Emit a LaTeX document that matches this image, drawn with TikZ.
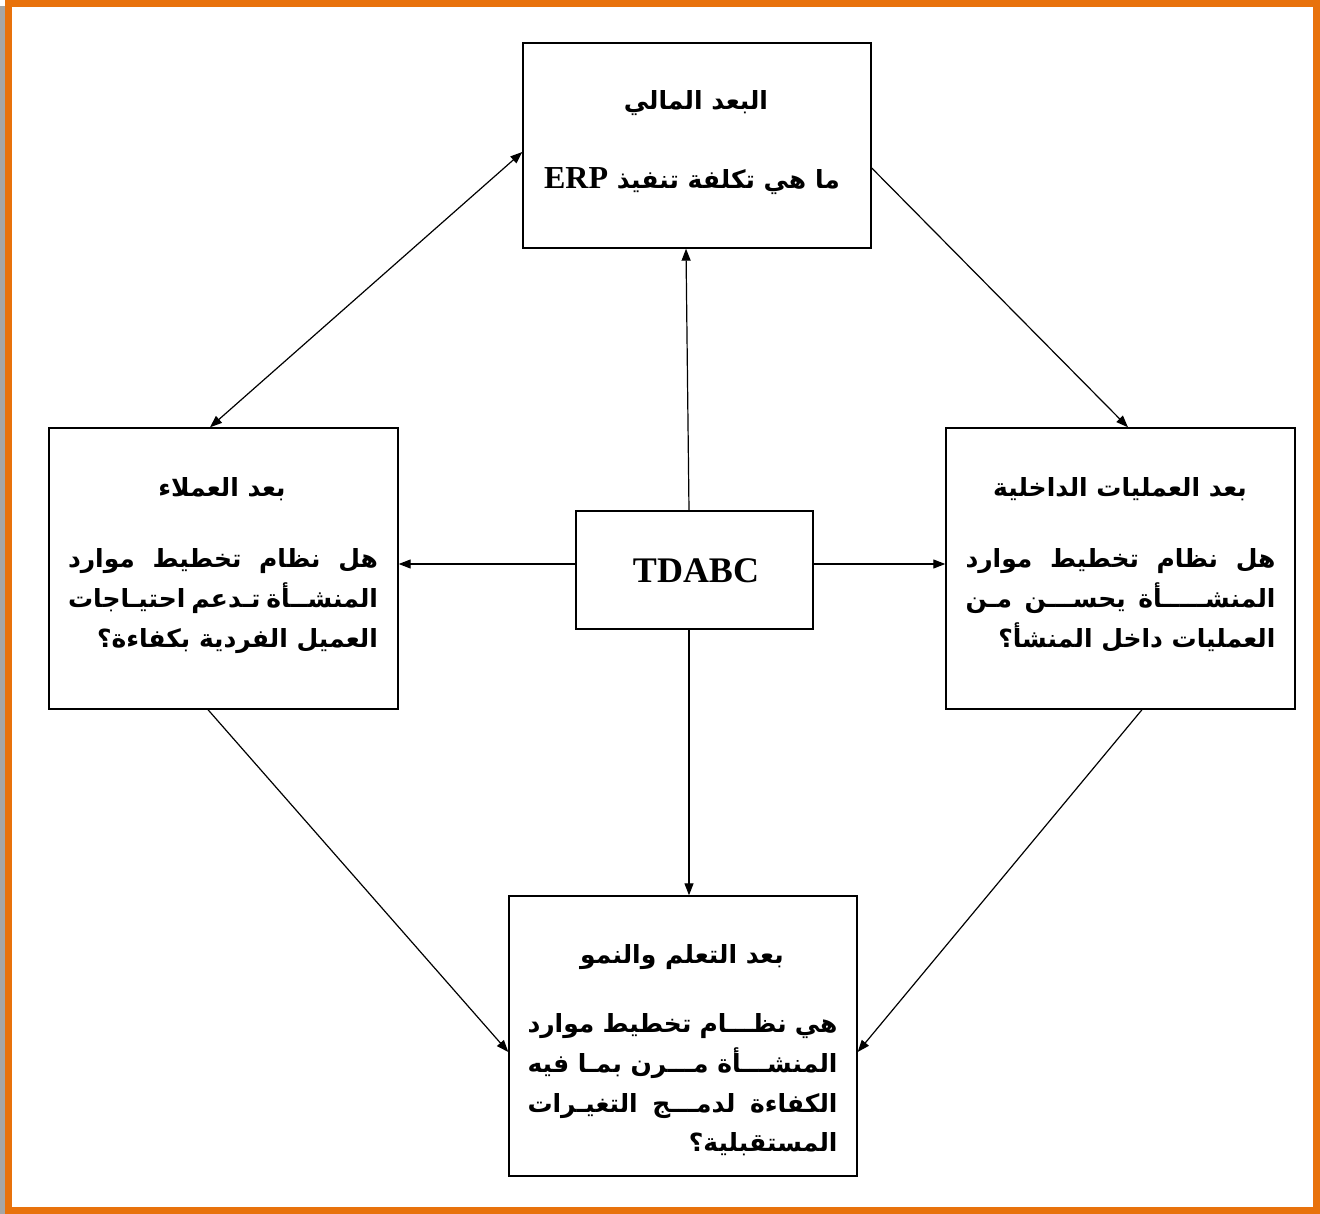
\documentclass[tikz,border=0pt]{standalone}
\usepackage{fontspec}
\setmainfont{Liberation Serif}
\newfontfamily\arabicfont[Script=Arabic]{DejaVu Sans}
\TeXXeTstate=1
\usetikzlibrary{arrows.meta,calc}
\definecolor{frameorange}{RGB}{232,114,12}
\newlength\jw \setlength\jw{310pt}
\newcommand\arsize{\fontsize{25}{29}\selectfont}
\newcommand\AR[1]{{\arabicfont\bfseries\arsize\beginR #1\endR}}
\newcommand\JL[1]{\hbox to \jw{\arabicfont\bfseries\arsize\beginR #1\endR}}
\newcommand\RL[1]{\hbox to \jw{\hfill\arabicfont\bfseries\arsize\beginR #1\endR}}
\begin{document}
\begin{tikzpicture}[x=1pt,y=-1pt,
  box/.style={draw,line width=1.4pt,inner sep=0pt},
  txt/.style={anchor=base,inner sep=0pt,outer sep=0pt},
  arr/.style={line width=1.2pt,-{Triangle[length=12pt,width=9pt]}},
  darr/.style={line width=1.2pt,{Triangle[length=12pt,width=9pt]}-{Triangle[length=12pt,width=9pt]}}]
\useasboundingbox (0,0) rectangle (1320,1214);
\fill[white] (0,0) rectangle (1320,1214);
\fill[black!35] (0,6) rectangle (5,1214);
\draw[frameorange,line width=7pt] (8.5,4) rectangle (1316.5,1210.5);

% boxes
\node[box,minimum width=348pt,minimum height=205pt] (T) at (697,145.5) {};
\node[box,minimum width=349pt,minimum height=281pt] (L) at (223.5,568.5) {};
\node[box,minimum width=349pt,minimum height=281pt] (R) at (1120.5,568.5) {};
\node[box,minimum width=348pt,minimum height=280pt] (B) at (683,1036) {};
\node[box,minimum width=237pt,minimum height=118pt] (C) at (694.5,570) {};

% texts
\node[txt] (Ct) at (696,582) {\fontsize{36}{40}\selectfont\bfseries TDABC};

\node[txt] (T1) at (696,110) {\AR{البعد المالي}};
\node[txt] (T2) at (692,189) {\AR{ما هي تكلفة تنفيذ \beginL{\rmfamily\bfseries\fontsize{32}{35}\selectfont ERP}\endL}};

\node[txt] (L0) at (222,496) {\AR{بعد العملاء}};
\node[txt] (L1) at (223,567) {\JL{هل نظام تخطيط موارد}};
\node[txt] (L2) at (223,607) {\JL{المنشــأة تـدعم احتيـاجات}};
\node[txt] (L3) at (223,647) {\RL{العميل الفردية بكفاءة؟}};

\node[txt] (R0) at (1120,496) {\AR{بعد العمليات الداخلية}};
\node[txt] (R1) at (1120.5,567) {\JL{هل نظام تخطيط موارد}};
\node[txt] (R2) at (1120.5,607) {\JL{المنشـــــأة يحســـن مـن}};
\node[txt] (R3) at (1120.5,647) {\RL{العمليات داخل المنشأ؟}};

\node[txt] (B0) at (682,963) {\AR{بعد التعلم والنمو}};
\node[txt] (B1) at (682.5,1032) {\JL{هي نظـــام تخطيط موارد}};
\node[txt] (B2) at (682.5,1072) {\JL{المنشـــأة مـــرن بمـا فيه}};
\node[txt] (B3) at (682.5,1112) {\JL{الكفاءة لدمـــج التغيـرات}};
\node[txt] (B4) at (682.5,1151) {\RL{المستقبلية؟}};

% connectors
\draw[darr] ([xshift=-13.5pt]L.north) -- ([yshift=-6.5pt]T.west);
\draw[arr] ([yshift=-22.5pt]T.east) -- ([xshift=7.5pt]R.north);
\draw[arr] ([xshift=-5.5pt]C.north) -- ([xshift=-11pt]T.south);
\draw[arr] ([yshift=6pt]C.west) -- ([yshift=6pt]C.west -| L.east);
\draw[arr] ([yshift=6pt]C.east) -- ([yshift=6pt]C.east -| R.west);
\draw[arr] ([xshift=-5.5pt]C.south) -- ([xshift=-5.5pt]C.south |- B.north);
\draw[arr] ([xshift=-15.5pt]L.south) -- ([yshift=-16pt]B.west);
\draw[arr] ([xshift=21.5pt]R.south) -- ([yshift=-16pt]B.east);
\end{tikzpicture}
\end{document}
